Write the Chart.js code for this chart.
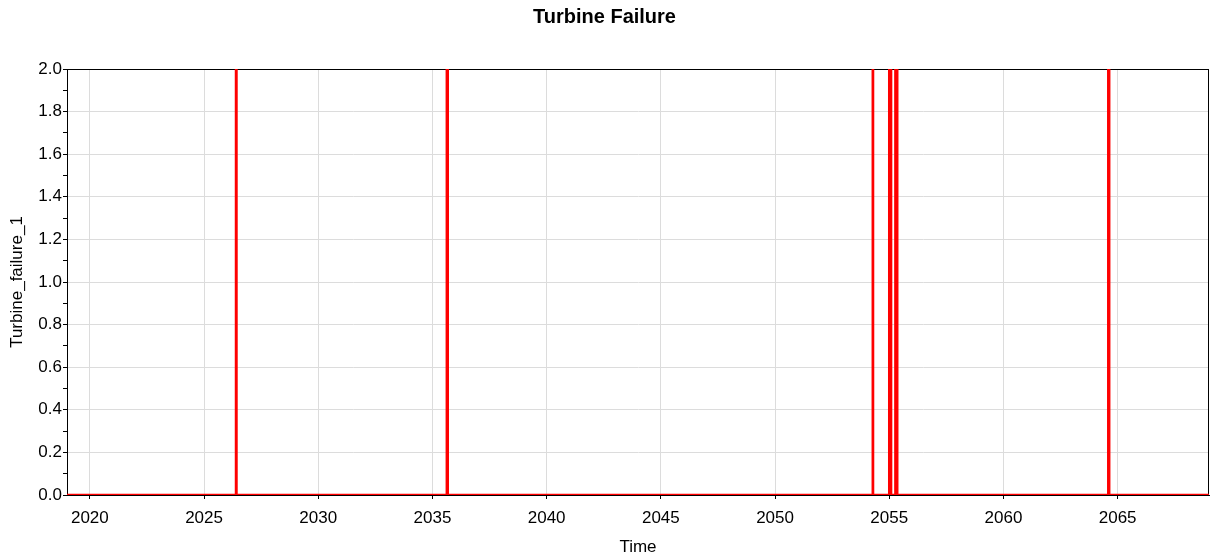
<!DOCTYPE html>
<html>
<head>
<meta charset="utf-8">
<title>Turbine Failure</title>
<script src="https://cdn.jsdelivr.net/npm/chart.js@4/dist/chart.umd.min.js"></script>
<style>
  html, body { margin: 0; padding: 0; background: #fff; }
  canvas { display: block; }
</style>
</head>
<body>
<canvas id="chart" width="1215" height="558"></canvas>
<script>
// Turbine failure state over the simulation horizon (0 = running, 2 = failed).
// Each entry marks the time (years) at which the state changes to the given value.
const timeYears    = [2019, 2026.40, 2026.42, 2035.63, 2035.67, 2054.28, 2054.29, 2055.00, 2055.08, 2055.27, 2055.35, 2064.59, 2064.63, 2069];
const failureState = [0,    2,       0,       2,       0,       2,       0,       2,       0,       2,       0,       2,       0,       0];

// Axis ticks
const xTickYears  = [2020, 2025, 2030, 2035, 2040, 2045, 2050, 2055, 2060, 2065];
const yTickValues = [0, 0.1, 0.2, 0.3, 0.4, 0.5, 0.6, 0.7, 0.8, 0.9, 1.0, 1.1, 1.2, 1.3, 1.4, 1.5, 1.6, 1.7, 1.8, 1.9, 2.0];
const yTickLabels = ['0.0', '', '0.2', '', '0.4', '', '0.6', '', '0.8', '', '1.0', '', '1.2', '', '1.4', '', '1.6', '', '1.8', '', '2.0'];

const points = timeYears.map((t, i) => ({ x: t, y: failureState[i] }));

const FONT = "'Liberation Sans', Arial, sans-serif";
const GRID = '#dcdcdc';

// Black box around the plotting area, drawn under the series
const plotFrame = {
  id: 'plotFrame',
  beforeDatasetsDraw(chart) {
    const { ctx, chartArea: a } = chart;
    ctx.save();
    ctx.strokeStyle = '#000';
    ctx.lineWidth = 1;
    ctx.strokeRect(a.left + 0.5, a.top + 0.5, a.right - a.left - 1, a.bottom - a.top);
    ctx.restore();
  }
};

new Chart(document.getElementById('chart'), {
  type: 'line',
  data: {
    datasets: [{
      label: 'Turbine_failure_1',
      data: points,
      borderColor: '#ff0000',
      backgroundColor: '#ff0000',
      borderWidth: 2.5,
      pointRadius: 0,
      stepped: true,
      fill: false,
      tension: 0
    }]
  },
  options: {
    responsive: false,
    animation: false,
    layout: { padding: { left: 0, right: 6, top: 0, bottom: 0 } },
    plugins: {
      legend: { display: false },
      tooltip: { enabled: false },
      title: {
        display: true,
        text: 'Turbine Failure',
        color: '#000',
        font: { family: FONT, size: 20, weight: 'bold', lineHeight: 1.2 },
        padding: { top: 5, bottom: 40 }
      }
    },
    scales: {
      x: {
        type: 'linear',
        min: 2019,
        max: 2069,
        afterBuildTicks(axis) { axis.ticks = xTickYears.map(v => ({ value: v })); },
        afterFit(axis) { axis.height = 63; },
        ticks: {
          color: '#000',
          font: { family: FONT, size: 17 },
          padding: 9,
          maxRotation: 0,
          autoSkip: false,
          callback: v => String(v)
        },
        grid: {
          color: GRID,
          lineWidth: 1,
          drawTicks: true,
          tickLength: 4,
          tickColor: '#000'
        },
        border: { display: true, color: '#000', width: 1 },
        title: {
          display: true,
          text: 'Time',
          color: '#000',
          font: { family: FONT, size: 17, lineHeight: 1.2 },
          padding: { top: 0, bottom: 0 }
        }
      },
      y: {
        type: 'linear',
        min: 0,
        max: 2,
        afterBuildTicks(axis) { axis.ticks = yTickValues.map(v => ({ value: v })); },
        afterFit(axis) { axis.width = 67; },
        ticks: {
          color: '#000',
          font: { family: FONT, size: 17 },
          padding: 1,
          autoSkip: false,
          callback: (v, i) => yTickLabels[i]
        },
        grid: {
          color: ctx => (ctx.tick && Math.round(ctx.tick.value * 10) % 2 === 0) ? GRID : 'rgba(0,0,0,0)',
          lineWidth: 1,
          drawTicks: true,
          tickLength: 4,
          tickColor: '#000'
        },
        border: { display: true, color: '#000', width: 1 },
        title: {
          display: true,
          text: 'Turbine_failure_1',
          color: '#000',
          font: { family: FONT, size: 17, lineHeight: 1.2 },
          padding: { top: 7, bottom: 7 }
        }
      }
    }
  },
  plugins: [plotFrame]
});
</script>
</body>
</html>
